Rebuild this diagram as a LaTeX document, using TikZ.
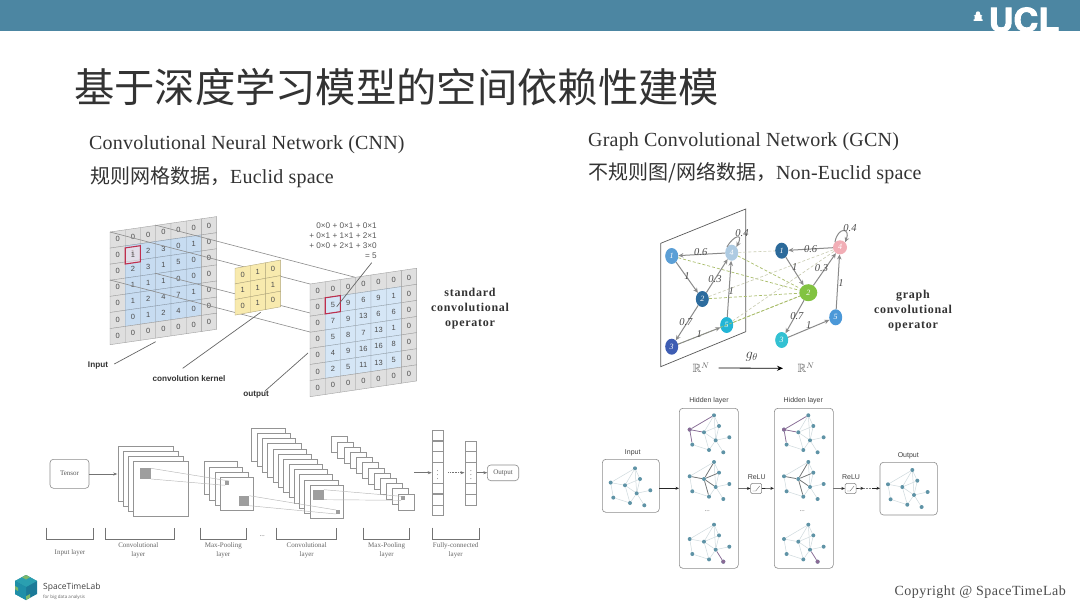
\documentclass[tikz,border=0pt]{standalone}
\usepackage{amssymb}
\usepackage{fontspec}
\setmainfont{Liberation Serif}
\newfontfamily\serifsp[LetterSpace=1]{Liberation Serif}
\newfontfamily\serifop[LetterSpace=6]{Liberation Serif}
\newfontfamily\serifcr[LetterSpace=3.5]{Liberation Serif}
\newfontfamily\cjk{Noto Sans CJK SC}
\newfontfamily\hv{Liberation Sans}
\newfontfamily\heros[BoldFeatures={FakeBold=2.5}]{TeX Gyre Heros}
\newfontfamily\osans{Open Sans}
\usetikzlibrary{shapes.geometric,arrows.meta}
\definecolor{barc}{HTML}{4C86A2}
\definecolor{txt}{HTML}{333333}
\definecolor{cellg}{HTML}{DFDFDF}
\definecolor{cellb}{HTML}{C7DCF1}
\definecolor{cellc}{HTML}{D5E6F6}
\definecolor{celly}{HTML}{F8EAAE}
\definecolor{redc}{HTML}{BE2F4E}
\definecolor{edgec}{HTML}{8A8A8A}
\definecolor{crossc}{HTML}{A9BD6A}
\definecolor{crossd}{HTML}{C8CBB0}
\definecolor{medgec}{HTML}{CFDADD}
\definecolor{mnodec}{HTML}{5F93A6}
\definecolor{mpurp}{HTML}{8A6A95}
\tikzset{
 title/.style={inner sep=0,anchor=west,font=\cjk\fontsize{40.3}{44}\selectfont,text=txt},
 head/.style={inner sep=0,anchor=west,font=\serifsp\fontsize{20}{22}\selectfont,text=txt},
 opname/.style={inner sep=0,align=center,font=\serifop\bfseries\fontsize{12}{15}\selectfont,text=txt},
 gridnum/.style={inner sep=0,font=\hv\fontsize{7.5}{8}\selectfont,text=black!70},
 tag/.style={inner sep=0,font=\hv\bfseries\fontsize{8.2}{9}\selectfont,text=black!80},
 formula/.style={inner sep=0,anchor=east,font=\hv\fontsize{8.2}{9}\selectfont,text=black!65},
 leader/.style={draw=black!60,line width=.7pt},
 passline/.style={draw=black!45,line width=.6pt},
 wedge/.style={draw=edgec,line width=1pt,-{Stealth[length=5pt,width=4.5pt]}},
 crossa/.style={draw=crossc,densely dashed,line width=.7pt},
 crossb/.style={draw=crossd,densely dashed,line width=.6pt},
 wlab/.style={inner sep=0,font=\itshape\fontsize{10.5}{11}\selectfont,text=black!70},
 gnode/.style={ellipse,minimum width=13pt,minimum height=16pt,inner sep=0,font=\itshape\fontsize{8}{8}\selectfont,text=white},
 plane/.style={draw=black!65,line width=.7pt,fill=white},
 stackbox/.style={draw=black!42,fill=white,line width=.6pt},
 patch/.style={fill=black!38},
 thin link/.style={draw=black!28,line width=.45pt},
 softbox/.style={draw=black!45,rounded corners=3.5pt,line width=.6pt,fill=white},
 small/.style={inner sep=0,font=\fontsize{7}{9.3}\selectfont,text=black!60,align=center},
 bracket/.style={draw=black!55,line width=.7pt},
 flow/.style={draw=black!55,line width=.6pt,-{Stealth[length=4pt,width=3pt]}},
 gcnbox/.style={draw=black!45,rounded corners=3.5pt,line width=.6pt,fill=white},
 gcntext/.style={inner sep=0,font=\hv\fontsize{7}{8}\selectfont,text=black!75},
 gcnflow/.style={draw=black!85,line width=.6pt,-{Stealth[length=3.5pt,width=3pt]}},
 mnode/.style={circle,fill=#1,minimum size=4pt,inner sep=0},
 mnode/.default={mnodec},
 medge/.style={draw=medgec,line width=.5pt},
 hlp/.style={draw=mpurp,line width=.7pt},
 hld/.style={draw=black!55,line width=.7pt},
}
% prefix, x0, y0, cell w, slope, cell h, outer fill, inner fill, rows
\newcommand{\skewgrid}[9]{%
 \foreach \rowvals [count=\r from 0] in {#9} {
  \foreach \v [count=\c from 0] in \rowvals {
   \def\cellfill{#7}
   \ifnum\r>0 \ifnum\r<6 \ifnum\c>0 \ifnum\c<6 \def\cellfill{#8}\fi\fi\fi\fi
   \fill[\cellfill,draw=\cellfill!72!black,line width=.4pt]
     ({#2+\c*#4},{#3+\c*#5+\r*#6}) -- ({#2+(\c+1)*#4},{#3+(\c+1)*#5+\r*#6})
     -- ({#2+(\c+1)*#4},{#3+(\c+1)*#5+(\r+1)*#6}) -- ({#2+\c*#4},{#3+\c*#5+(\r+1)*#6}) -- cycle;
   \node[gridnum,name=#1-\r-\c] at ({#2+(\c+.5)*#4},{#3+(\c+.5)*#5+(\r+.5)*#6}) {\v};
  }
 }
}
% x0,y0,dx,dy,count-1,size
\newcommand{\stackrects}[6]{%
 \foreach \k in {0,...,#5} {
  \draw[stackbox] ({#1+\k*#3},{#2+\k*#4}) rectangle ++(#6,#6);
 }
}
% prefix, ax, ay, mode
\newcommand{\minigraph}[4]{%
 \foreach \n/\dx/\dy in {a/0/0,b/-24.3/14.3,c/5/10.7,d/-10/17,e/1.7/25,f/15.3/22,g/-21.7/29.3,h/-5/34.7,i/9.3/37} {
  \node[mnode,name=#1-\n] at ({#2+\dx},{#3+\dy}) {};
 }
 \foreach \u/\w in {b/a,a/c,a/d,a/e,c/d,c/e,d/e,b/d,b/g,d/h,e/h,g/h,e/f,e/i} {
  \draw[medge] (#1-\u) -- (#1-\w);
 }
 \ifcase#4\relax
 \or
  \draw[hlp] (#1-b) -- (#1-a);\draw[hlp] (#1-b) -- (#1-d);\draw[hlp] (#1-b) -- (#1-g);
  \node[mnode=mpurp,name=#1-bb] at (#1-b) {};
 \or
  \foreach \w in {a,b,c,e,h} {\draw[hld] (#1-d) -- (#1-\w);}
 \or
  \draw[hlp] (#1-e) -- (#1-i);
  \node[mnode=mpurp,name=#1-ii] at (#1-i) {};
 \fi
}
\begin{document}
\begin{tikzpicture}[x=1pt,y=-1pt]
\useasboundingbox (0,0) rectangle (1080,607);
\fill[white] (0,0) rectangle (1080,607);
\fill[barc] (0,0) rectangle (1080,31);
% UCL
\node[inner sep=0,anchor=base,text=white,name=ucl,xscale=1.06,font=\heros\bfseries\fontsize{32.5}{33}\selectfont] at (1024,31.5) {UCL};
\fill[white] (973.5,21) rectangle (982.5,19.5) (974.5,19.5) rectangle (981.5,16) (973.5,16) -- (978,13) -- (982.5,16) -- cycle;
\fill[white] (978,13.5) circle (2.2);
% titles
\node[title,name=maintitle] at (74,87) {基于深度学习模型的空间依赖性建模};
\node[head,name=h1] at (89,145) {Convolutional Neural Network (CNN)};
\node[head,name=h2] at (90,177.5) {{\cjk\fontsize{20}{22}\selectfont 规则网格数据，}Euclid space};
\node[head,name=h3] at (588,142) {Graph Convolutional Network (GCN)};
\node[head,name=h4] at (588,173.5) {{\cjk\fontsize{20}{22}\selectfont 不规则图/网络数据，}Non-Euclid space};

% input grid
\skewgrid{inp}{110}{232}{15.24}{-2.2}{16.1}{cellg}{cellb}{{0,0,0,0,0,0,0},{0,1,2,3,0,1,0},{0,2,3,1,5,0,0},{0,1,1,1,0,0,0},{0,1,2,4,7,1,0},{0,0,1,2,4,0,0},{0,0,0,0,0,0,0}}
\draw[redc,line width=1.1pt,fill=redc!15,fill opacity=.6] (125.2,231.8+16.1) -- ++(15.24,-2.2) -- ++(0,16.1) -- ++(-15.24,2.2) -- cycle;
\node[gridnum] (inp-mark) at (132.9,254.8) {1};
% pass lines
\coordinate (pa1) at (155,225);\coordinate (pb1) at (356.7,277.7);
\coordinate (pa2) at (110,232);\coordinate (pb2) at (310,284);
\coordinate (pa3) at (155,273.3);\coordinate (pb3) at (310,313);
\coordinate (pa4) at (110,280);\coordinate (pb4) at (310,332);
\foreach \i in {1,2,3,4} {\draw[passline] (pa\i) -- (pb\i);}
% kernel
\skewgrid{ker}{235}{268.3}{15.22}{-2.77}{15.6}{celly}{celly}{{0,1,0},{1,1,1},{0,1,0}}
% output grid
\skewgrid{out}{310}{284}{15.24}{-2.25}{16.1}{cellg}{cellc}{{0,0,0,0,0,0,0},{0,5,9,6,9,1,0},{0,7,9,13,6,6,0},{0,5,8,7,13,1,0},{0,4,9,16,16,8,0},{0,2,5,11,13,5,0},{0,0,0,0,0,0,0}}
\draw[redc,line width=1.1pt] (325.2,297.8) -- ++(15.24,-2.25) -- ++(0,16.1) -- ++(-15.24,2.25) -- cycle;
% formula
\node[formula,name=f1] at (377,226) {0×0 + 0×1 + 0×1};
\node[formula,name=f2] at (377,236) {+ 0×1 + 1×1 + 2×1};
\node[formula,name=f3] at (377,246) {+ 0×0 + 2×1 + 3×0};
\node[formula,name=f4] at (377,256) {= 5};
\coordinate (fa) at (371.7,262.7);\coordinate (fb) at (336.7,306.7);
\draw[leader] (fa) -- (fb);
% tags
\node[tag,name=t1] at (98,366) {Input};
\node[tag,name=t2] at (189,379) {convolution kernel};
\node[tag,name=t3] at (256,395) {output};
\coordinate (l1a) at (114.3,364);\coordinate (l1b) at (155.7,341.7);
\coordinate (l2a) at (182.7,368.3);\coordinate (l2b) at (260.7,312.3);
\coordinate (l3a) at (265,391);\coordinate (l3b) at (308,353);
\draw[leader] (l1a) -- (l1b);\draw[leader] (l2a) -- (l2b);\draw[leader] (l3a) -- (l3b);
\node[opname,name=op1] at (470,308.5) {standard\\convolutional\\operator};

% GCN top
\path[plane,name=pl] (660.7,243.3) -- (745.7,209) -- (745.7,331.7) -- (660.7,366.7) -- cycle;
\definecolor{nA}{HTML}{5B9FD6}\definecolor{nB}{HTML}{AECBE2}\definecolor{nC}{HTML}{2D6C9E}
\definecolor{nD}{HTML}{3E5DB3}\definecolor{nE}{HTML}{22B5D6}\definecolor{nF}{HTML}{2C6A9A}
\definecolor{nG}{HTML}{F2AEB6}\definecolor{nH}{HTML}{82C341}\definecolor{nI}{HTML}{33C1D2}\definecolor{nJ}{HTML}{4B98D8}
\node[gnode,fill=nA,name=L1] at (671.7,256) {1};
\node[gnode,fill=nB,name=L4,text=white] at (731.7,252.7) {4};
\node[gnode,fill=nC,name=L2] at (702.3,299) {2};
\node[gnode,fill=nD,name=L3] at (671.7,346.7) {3};
\node[gnode,fill=nE,name=L5] at (726.7,325) {5};
\node[gnode,fill=nF,name=R1] at (781.7,250.7) {1};
\node[gnode,fill=nG,name=R4,minimum width=14pt,minimum height=14pt] at (840,247.3) {4};
\node[gnode,fill=nH,name=R2,minimum width=18pt,minimum height=17pt] at (808.3,292.7) {2};
\node[gnode,fill=nI,name=R3] at (781.7,340) {3};
\node[gnode,fill=nJ,name=R5] at (835.7,317.3) {5};
% dashed
\foreach \s in {L1,L4,L2,L3,L5} {\draw[crossa] (\s) -- (R2);}
\draw[crossb] (L4) -- (R1);\draw[crossb] (L2) -- (R4);\draw[crossb] (L5) -- (R4);
% arrows left
\draw[wedge] (L4) -- node[wlab,name=w1,pos=.52,above=-2pt] {0.6} (L1);
\draw[wedge] (L1) -- node[wlab,name=w2,pos=.45,xshift=1pt] {1} (L2);
\draw[wedge] (L2) -- node[wlab,name=w3,pos=.45,xshift=-1pt,yshift=-2pt] {0.3} (L4);
\draw[wedge] (L5) -- node[wlab,name=w4,pos=.5,xshift=2pt,yshift=-2pt] {1} (L4);
\draw[wedge] (L2) -- node[wlab,name=w5,pos=.55,xshift=0pt,yshift=3pt] {0.7} (L3);
\draw[wedge] (L3) -- node[wlab,name=w6,pos=.5,yshift=2pt] {1} (L5);
\draw[wedge] (L4.north west) .. controls (733,236) and (744,232) .. (L4.north east);
\node[wlab,name=w7] at (742,233) {0.4};
% arrows right
\draw[wedge] (R4) -- node[wlab,name=w8,pos=.5,yshift=0pt] {0.6} (R1);
\draw[wedge] (R1) -- node[wlab,name=w9,pos=.45,xshift=1pt,yshift=3pt] {1} (R2);
\draw[wedge] (R2) -- node[wlab,name=w10,pos=.45,xshift=-2pt,yshift=3pt] {0.3} (R4);
\draw[wedge] (R5) -- node[wlab,name=w11,pos=.5,xshift=3pt,yshift=-1pt] {1} (R4);
\draw[wedge] (R2) -- node[wlab,name=w12,pos=.55,xshift=3pt,yshift=2pt] {0.7} (R3);
\draw[wedge] (R3) -- node[wlab,name=w13,pos=.5,yshift=4pt] {1} (R5);
\draw[wedge] (R4.north west) .. controls (838,226) and (851,228) .. (R4.north east);
\node[wlab,name=w14] at (850,228) {0.4};
% g theta
\node[inner sep=0,name=rn1,text=black!65,font=\fontsize{12}{12}\selectfont] at (701,368) {$\mathbb{R}^N$};
\node[inner sep=0,name=rn2,text=black!65,font=\fontsize{12}{12}\selectfont] at (806,368) {$\mathbb{R}^N$};
\draw[black,line width=.8pt,-{Stealth[length=6pt,width=5pt]}] (rn1.east)++(9,0) coordinate (ga) -- (783,368.3) coordinate (gb);
\node[inner sep=0,name=gth,text=black!75,font=\fontsize{14}{14}\selectfont] at (751.7,357) {$g_\theta$};
\node[opname,name=op2] at (913,310.5) {graph\\convolutional\\operator};

% CNN bottom
\draw[softbox] (50,459.3) rectangle (89,488.3);
\node[inner sep=0,name=tensor,font=\fontsize{7}{8}\selectfont,text=black!65] at (69.5,473.7) {Tensor};
\coordinate (ta) at (89,474);\coordinate (tb) at (117.3,474);
\draw[flow] (ta) -- (tb);
\stackrects{118.3}{446}{5}{5.2}{3}{55}
\stackrects{204.3}{461.7}{5.33}{5.2}{3}{33}
\stackrects{251.7}{428.3}{5.3}{5.15}{11}{33.3}
\stackrects{331.7}{436.7}{6.06}{5.2}{11}{16}
\fill[patch] (140,468.3) rectangle (151,479);
\fill[patch] (225,481) rectangle (229.3,485.3);
\fill[patch] (239,495.7) rectangle (249.3,505.7);
\fill[patch] (313.3,489.7) rectangle (324,499.7);
\fill[patch] (336,510) rectangle (340,514);
\fill[patch] (401,496.3) rectangle (405,500.3);
\coordinate (c1) at (151,468.3);\coordinate (c2) at (229.3,481);
\coordinate (c3) at (151,479);\coordinate (c4) at (225,485.3);
\coordinate (c5) at (249.3,495.7);\coordinate (c6) at (336,510);
\coordinate (c7) at (249.3,505.7);\coordinate (c8) at (336,514);
\coordinate (c9) at (324,489.7);\coordinate (c10) at (401,496.3);
\coordinate (c11) at (324,499.7);\coordinate (c12) at (401,500.3);
\draw[thin link] (c1) -- (c2);\draw[thin link] (c3) -- (c4);
\draw[thin link] (c5) -- (c6);\draw[thin link] (c7) -- (c8);
\draw[thin link] (c9) -- (c10);\draw[thin link] (c11) -- (c12);
% FC
\foreach \yy in {430,440.8,451.5} {\draw[stackbox] (432.3,\yy) rectangle ++(11,10.7);}
\draw[stackbox] (432.3,462.2) rectangle (443.3,483);
\foreach \yy in {483,494.3,505} {\draw[stackbox] (432.3,\yy) rectangle ++(11,10.7);}
\foreach \yy in {441,451.7} {\draw[stackbox] (465.3,\yy) rectangle ++(11.4,10.7);}
\draw[stackbox] (465.3,462.4) rectangle (476.7,483.3);
\foreach \yy in {483.3,494.5} {\draw[stackbox] (465.3,\yy) rectangle ++(11.4,11.2);}
\node[inner sep=0,name=vd1,font=\fontsize{7}{7}\selectfont,text=black!80] at (437.8,472.5) {$\vdots$};
\node[inner sep=0,name=vd2,font=\fontsize{7}{7}\selectfont,text=black!80] at (471,472.5) {$\vdots$};
\coordinate (fa1) at (414,472.7);\coordinate (fa2) at (431.7,472.7);
\coordinate (fa3) at (448.3,472.7);\coordinate (fa4) at (464.5,472.7);
\coordinate (fa5) at (476.7,472.7);
\draw[flow] (fa1) -- (fa2);
\draw[flow,densely dotted] (fa3) -- (fa4);
\draw[softbox] (487.3,465) rectangle (518.7,480.7);
\node[inner sep=0,name=outb,font=\fontsize{7}{8}\selectfont,text=black!65] at (503,472.8) {Output};
\draw[flow] (fa5) -- (487.3,472.7);
\foreach \xa/\xb in {46.7/93.3,105.7/174.3,200.3/246.7,276/336.7,363.3/409.3,432.3/479} {
 \draw[bracket] (\xa,527.7) -- (\xa,539) -- (\xb,539) -- (\xb,527.7);
}
\node[small,name=b1] at (70,552.7) {Input layer};
\node[small,name=b2] at (138.3,550.3) {Convolutional\\layer};
\node[small,name=b3] at (223.3,550.3) {Max-Pooling\\layer};
\node[small,name=b4] at (262.3,536.5) {...};
\node[small,name=b5] at (306.7,550.3) {Convolutional\\layer};
\node[small,name=b6] at (386.7,550.3) {Max-Pooling\\layer};
\node[small,name=b7] at (455.7,550.3) {Fully-connected\\layer};

% GCN bottom
\draw[gcnbox] (602.3,459.3) rectangle (659.3,512.3);
\draw[gcnbox] (679.3,408.3) rectangle (738.3,568.3);
\draw[gcnbox] (774.3,408.3) rectangle (833.3,568.3);
\draw[gcnbox] (880,462.3) rectangle (937.3,515);
\node[gcntext,name=g1] at (632.7,453.3) {Input};
\node[gcntext,name=g2] at (709,401) {Hidden layer};
\node[gcntext,name=g3] at (803.3,401) {Hidden layer};
\node[gcntext,name=g4] at (908.3,455.7) {Output};
\minigraph{gi}{635}{468.3}{0}
\minigraph{ha}{714}{415.3}{1}
\minigraph{hb}{714}{462}{2}
\minigraph{hc}{714}{524.7}{3}
\minigraph{ja}{808.3}{415.3}{1}
\minigraph{jb}{808.3}{462}{2}
\minigraph{jc}{808.3}{524.7}{3}
\minigraph{go}{912.3}{470}{0}
\node[small,name=dd1] at (707.3,511.5) {...};
\node[small,name=dd2] at (802.3,511.5) {...};
\node[gcntext,name=r1] at (756.7,476.7) {ReLU};
\node[gcntext,name=r2] at (851,476.7) {ReLU};
\node[draw=black!50,rounded corners=1.5pt,line width=.5pt,minimum width=11pt,minimum height=10.4pt,inner sep=0,name=rb1] at (756.2,488.5) {};
\node[draw=black!50,rounded corners=1.5pt,line width=.5pt,minimum width=11pt,minimum height=10.4pt,inner sep=0,name=rb2] at (850.6,488.5) {};
\foreach \b in {rb1,rb2} {\draw[black!55,line width=.4pt] ([shift={(-3.5,2.5)}]\b.center) -- ([shift={(-.5,2.5)}]\b.center) -- ([shift={(3.5,-2.5)}]\b.center);}
\coordinate (ga1) at (659.3,488.3);\coordinate (ga2) at (679,488.3);
\coordinate (ga3) at (738.3,488.3);
\coordinate (ga4) at (773.9,488.3);
\coordinate (ga5) at (833.3,488.3);
\coordinate (ga6) at (864,488.3);\coordinate (ga7) at (872,488.3);\coordinate (ga8) at (880,488.3);
\draw[gcnflow] (ga1) -- (ga2);
\draw[gcnflow] (ga3) -- (rb1.west);
\draw[gcnflow] (rb1.east) -- (ga4);
\draw[gcnflow] (ga5) -- (rb2.west);
\draw[gcnflow] (rb2.east) -- (ga6);
\draw[black!50,line width=.5pt,densely dotted] (ga6) -- (ga7);
\draw[gcnflow] (ga7) -- (ga8);

% logo
\definecolor{lgA}{HTML}{1F8FA8}\definecolor{lgB}{HTML}{2A9FB0}\definecolor{lgC}{HTML}{1B7A98}\definecolor{lgD}{HTML}{7FB86A}
\fill[lgC] (26,575) -- (37,581) -- (37,594) -- (26,600) -- (15,594) -- (15,581) -- cycle;
\fill[lgB] (26,575) -- (37,581) -- (26,587) -- (15,581) -- cycle;
\fill[lgA] (15,581) -- (26,587) -- (26,600) -- (15,594) -- cycle;
\fill[lgD] (26,575) -- (30,577.2) -- (26,579.5) -- (22,577.2) -- cycle;
\fill[lgD] (26,600) -- (30,597.7) -- (30,594) -- (26,596.3) -- cycle;
\fill[lgD] (15,586) -- (18,587.7) -- (18,591) -- (15,589.3) -- cycle;
\node[inner sep=0,anchor=west,name=lab1,font=\osans\fontsize{8.5}{9}\selectfont,text=black!75] at (43,587.7) {SpaceTimeLab};
\node[inner sep=0,anchor=west,name=lab2,font=\osans\fontsize{4.5}{5}\selectfont,text=black!60] at (43,597) {for big data analysis};
\node[inner sep=0,anchor=east,name=copyr,font=\serifcr\fontsize{14}{15}\selectfont,text=black!70] at (1066,592) {Copyright @ SpaceTimeLab};
\end{tikzpicture}
\end{document}
